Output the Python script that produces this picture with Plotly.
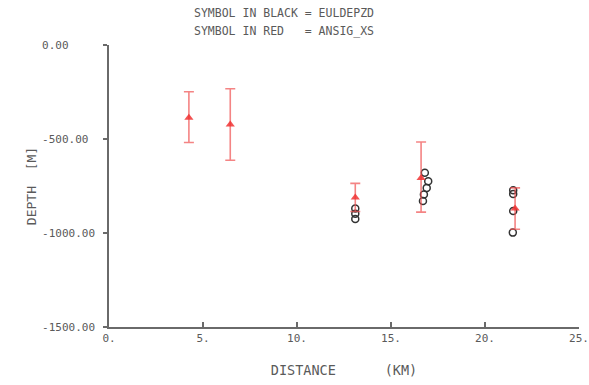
import plotly.graph_objects as go

# Red series (ANSIG_XS): distance (km), depth (m), error bars (m)
red_dist = [4.25, 6.45, 13.1, 16.6, 21.6]
red_depth = [-387, -423, -811, -707, -870]
red_err_plus = [138, 190, 75, 191, 110]
red_err_minus = [132, 190, 75, 182, 110]

# Black series (EULDEPZD)
blk_dist = [13.1, 13.1, 13.1, 16.8, 16.98, 16.9, 16.75, 16.7, 21.5, 21.5, 21.5, 21.48]
blk_depth = [-870, -898, -925, -680, -725, -760, -795, -830, -772, -792, -883, -998]

# Axis ticks
x_ticks = [0, 5, 10, 15, 20, 25]
x_ticktext = ["0.", "5.", "10.", "15.", "20.", "25."]
y_ticks = [0, -500, -1000, -1500]
y_ticktext = ["0.00", "-500.00", "-1000.00", "-1500.00"]

NB = "\u00a0"
width = 8
y_ticktext_padded = [t + NB * (width - len(t)) for t in y_ticktext]

FONT = "DejaVu Sans Mono"
GREY = "#5a5a5a"
AX = "#6a6a6a"

fig = go.Figure()

fig.add_trace(go.Scatter(
    x=blk_dist, y=blk_depth, mode="markers",
    marker=dict(symbol="circle-open", size=7, color="#333333", line=dict(width=1.5)),
    showlegend=False, hoverinfo="skip",
))

fig.add_trace(go.Scatter(
    x=red_dist, y=red_depth, mode="markers",
    marker=dict(symbol="triangle-up", size=8, color="rgba(240,50,50,0.85)"),
    error_y=dict(type="data", symmetric=False, array=red_err_plus, arrayminus=red_err_minus,
                 color="rgba(240,80,80,0.7)", thickness=1.6, width=5),
    showlegend=False, hoverinfo="skip",
))

L, R, T, B = 109, 10, 45, 58
PW, PH = 589 - L - R, 385 - T - B

fig.update_layout(
    width=589, height=385,
    margin=dict(l=L, r=R, t=T, b=B),
    paper_bgcolor="white", plot_bgcolor="white",
    font=dict(family=FONT, color=GREY, size=11),
    xaxis=dict(
        range=[0, 25], tickvals=x_ticks, ticktext=x_ticktext, automargin=False,
        showgrid=False, zeroline=False, showline=True, linecolor=AX, linewidth=1.5,
        ticks="inside", ticklen=5, tickcolor=AX, tickwidth=1.5,
        ticklabeloverflow="allow",
        tickfont=dict(family=FONT, size=11, color=GREY),
        title=dict(text="DISTANCE" + NB * 6 + "(KM)", font=dict(family=FONT, size=13.5, color=GREY), standoff=22),
    ),
    yaxis=dict(
        range=[-1500, 0], tickvals=y_ticks, ticktext=y_ticktext_padded, automargin=False,
        showgrid=False, zeroline=False, showline=True, linecolor=AX, linewidth=1.5,
        ticks="outside", ticklen=4, tickcolor=AX, tickwidth=1.5,
        ticklabelstandoff=6,
        tickfont=dict(family=FONT, size=11, color=GREY),
        title=dict(text="DEPTH" + NB + NB + "[M]", font=dict(family=FONT, size=13, color=GREY), standoff=3),
    ),
    annotations=[
        dict(text="SYMBOL IN BLACK = EULDEPZD", xref="paper", yref="paper",
             x=(192 - L) / PW, y=(385 - B - 13) / PH, xanchor="left", yanchor="middle", showarrow=False,
             font=dict(family=FONT, size=11.5, color=GREY)),
        dict(text="SYMBOL IN RED" + NB * 3 + "= ANSIG_XS", xref="paper", yref="paper",
             x=(192 - L) / PW, y=(385 - B - 31) / PH, xanchor="left", yanchor="middle", showarrow=False,
             font=dict(family=FONT, size=11.5, color=GREY)),
    ],
)

fig.write_html("out.html", config={"displayModeBar": False},
               post_script="document.body.style.margin='0';")
